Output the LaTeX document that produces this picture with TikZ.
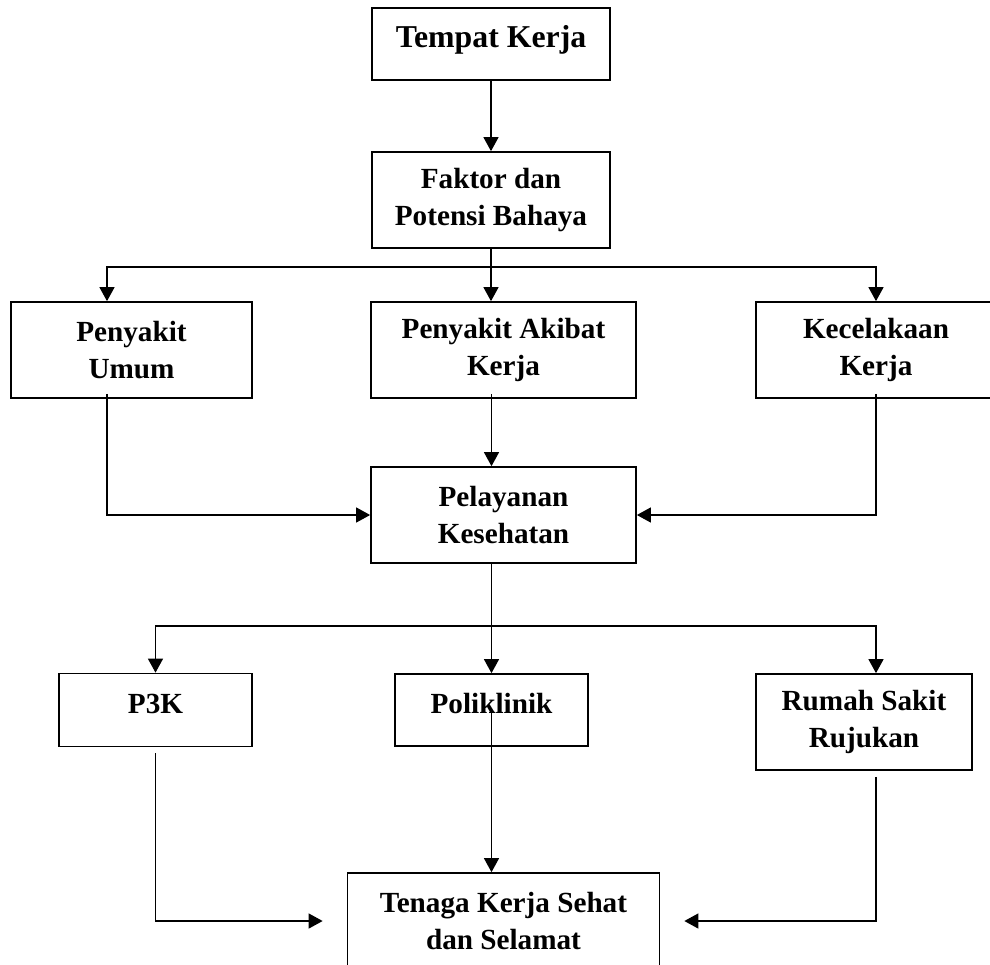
\documentclass[tikz,border=0pt]{standalone}
\usepackage{fontspec}
\setmainfont{Liberation Serif}
\usetikzlibrary{arrows.meta}
\tikzset{
    block/.style = {draw, rectangle, line width=0.85pt,
        font=\fontsize{14.6}{18.5}\selectfont\bfseries, align=center},
    oneline/.style = {block, text height=10.5pt, text depth=7.5pt},
    line/.style = {draw, line width=0.65pt},
    arrow/.style = {line, -{Triangle[length=7pt,width=7.5pt]}}
}

\begin{document}
\begin{tikzpicture}[node distance=2cm]
        \useasboundingbox (-245.5pt,22pt) rectangle (249.5pt,-460pt);
        \node [oneline, font=\fontsize{15.9}{18.5}\selectfont\bfseries, minimum width=119pt, minimum height=36pt] (tempat) {Tempat Kerja};
        \node [block, below of=tempat, node distance=78pt, minimum width=119pt, minimum height=48pt] (faktor) {Faktor dan\\Potensi Bahaya};
        \draw [arrow] (tempat) -- (faktor);
        \node [block, below of=faktor, node distance=75pt, xshift=6.25pt, minimum width=132.5pt, minimum height=48pt] (akibat) {Penyakit Akibat\\Kerja};
        \node [block, left of=akibat, node distance=186pt, minimum width=120.5pt, minimum height=48pt] (umum) {Penyakit\\Umum};
        \node [block, right of=akibat, node distance=186.25pt, minimum width=120pt, minimum height=48pt] (kecelakaan) {Kecelakaan\\Kerja};
        \coordinate [below of=faktor, node distance=33.5pt] (cabang1);
        \draw [line] (faktor) -- (cabang1);
        \draw [arrow] (cabang1) -| ([xshift=-12.25pt]umum.north);
        \draw [arrow] (cabang1) -- (cabang1 |- akibat.north);
        \draw [arrow] (cabang1) -| (kecelakaan.north);
        \node [block, below of=akibat, node distance=82.5pt, minimum width=132.5pt, minimum height=48pt] (pelayanan) {Pelayanan\\Kesehatan};
        \draw [arrow] ([xshift=-6pt,yshift=2.5pt]akibat.south) -- ([xshift=-6pt]pelayanan.north);
        \draw [arrow] ([xshift=-12.25pt,yshift=2.5pt]umum.south) |- (pelayanan.west);
        \draw [arrow] ([yshift=2.5pt]kecelakaan.south) |- (pelayanan.east);
        \node [oneline, below of=pelayanan, node distance=97.5pt, xshift=-6pt, minimum width=96.5pt, minimum height=36pt] (poli) {Poliklinik};
        \node [oneline, left of=poli, node distance=168pt, minimum width=96.5pt, minimum height=36.5pt] (ppk) {P3K};
        \node [block, right of=poli, node distance=186.25pt, yshift=-6pt, minimum width=108pt, minimum height=48pt] (rumah) {Rumah Sakit\\Rujukan};
        \coordinate [below of=pelayanan, node distance=55.5pt, xshift=-6pt] (cabang2);
        \draw [line] ([xshift=-6pt]pelayanan.south) -- (cabang2);
        \draw [arrow] (cabang2) -| (ppk.north);
        \draw [arrow] (cabang2) -- (poli.north);
        \draw [arrow] (cabang2) -| ([xshift=6pt]rumah.north);
        \node [block, below of=pelayanan, node distance=203pt, minimum width=156pt, minimum height=48pt] (tenaga) {Tenaga Kerja Sehat\\dan Selamat};
        \draw [arrow] (poli.center) -- (poli.center |- tenaga.north);
        \draw [arrow] ([yshift=-3pt]ppk.south) |- ([xshift=-12pt]tenaga.west);
        \draw [arrow] ([xshift=6pt,yshift=-3pt]rumah.south) |- ([xshift=12pt]tenaga.east);
    \end{tikzpicture}
\end{document}
